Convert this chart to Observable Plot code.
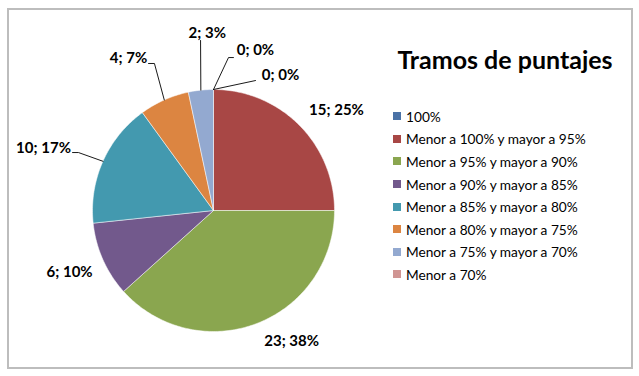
<!DOCTYPE html>
<html>
<head>
<meta charset="utf-8">
<script src="https://cdn.jsdelivr.net/npm/d3@7"></script>
<script src="https://cdn.jsdelivr.net/npm/@observablehq/plot@0.6"></script>
<style>
  html, body { margin: 0; padding: 0; background: #fff; }
  #wrap { position: relative; width: 639px; height: 376px; overflow: hidden; font-family: Lato, "Liberation Sans", sans-serif; }
  #border { position: absolute; left: 7px; top: 8px; width: 622px; height: 357px; border: 2px solid #BDBDBD; }
  #chart { position: absolute; left: 0; top: 0; }
  #title { position: absolute; left: 380px; width: 250px; top: 44px; text-align: center; font-weight: bold; font-size: 25px; color: #000; }
  #legend { position: absolute; left: 393px; top: 105px; }
  .row { height: 22.6px; display: flex; align-items: center; font-size: 13.7px; color: #000; white-space: nowrap; }
  .sw { width: 8px; height: 8px; margin-right: 5px; flex: none; }
</style>
</head>
<body>
<div id="wrap">
  <div id="border"></div>
  <div id="chart"></div>
  <div id="title">Tramos de puntajes</div>
  <div id="legend"></div>
</div>
<script>
const categories = [
  "100%",
  "Menor a 100% y mayor a 95%",
  "Menor a 95% y mayor a 90%",
  "Menor a 90% y mayor a 85%",
  "Menor a 85% y mayor a 80%",
  "Menor a 80% y mayor a 75%",
  "Menor a 75% y mayor a 70%",
  "Menor a 70%"
];
const values = [0, 15, 23, 6, 10, 4, 2, 0];
const colors = ["#4A72A6", "#A84745", "#8AA64F", "#72598C", "#4399AF", "#DC8541", "#93A9D0", "#D09593"];

// label placement (polar: degrees clockwise from 12 o'clock, radius in pie radii)
const labelAngle = [14.7, 50.9, 149.2, 246.7, 290.0, 330.8, 358.0, 26.4];
const labelRadius = [1.367, 1.310, 1.261, 1.295, 1.495, 1.439, 1.464, 1.246];
// leader line bend/end points (pie-radius units), null = no leader
const leaderPoints = [
  [[0.124, 1.264], [0.165, 1.264]],
  null,
  null,
  null,
  [[-1.116, 0.479], [-1.165, 0.479]],
  [[-0.488, 1.215], [-0.537, 1.215]],
  [[-0.107, 1.405]],
  [[0.347, 1.074]]
];

const total = d3.sum(values);
const rad = a => a * Math.PI / 180;
let cum = 0;
const slices = values.map((v, i) => {
  const a0 = cum / total * 360;
  cum += v;
  const a1 = cum / total * 360;
  return {cat: categories[i], value: v, a0, a1, mid: (a0 + a1) / 2, pct: Math.round(v / total * 100)};
});

// polygon vertices for each slice
const pts = [];
slices.forEach(s => {
  if (s.value <= 0) return;
  pts.push({cat: s.cat, x: 0, y: 0});
  const n = Math.max(2, Math.ceil(s.a1 - s.a0));
  for (let k = 0; k <= n; k++) {
    const a = rad(s.a0 + (s.a1 - s.a0) * k / n);
    pts.push({cat: s.cat, x: Math.sin(a), y: Math.cos(a)});
  }
  pts.push({cat: s.cat, x: 0, y: 0});
});

const labels = slices.map((s, i) => ({
  text: `${s.value}; ${s.pct}%`,
  x: labelRadius[i] * Math.sin(rad(labelAngle[i])),
  y: labelRadius[i] * Math.cos(rad(labelAngle[i]))
}));

const leaders = [];
slices.forEach((s, i) => {
  if (!leaderPoints[i]) return;
  const a = rad(s.mid);
  leaders.push({id: i, x: Math.sin(a), y: Math.cos(a)});
  leaderPoints[i].forEach(p => leaders.push({id: i, x: p[0], y: p[1]}));
});

const chart = Plot.plot({
  width: 639,
  height: 376,
  margin: 0,
  x: {domain: [-1, 1], range: [92, 334], axis: null},
  y: {domain: [-1, 1], range: [331, 89], axis: null},
  color: {domain: categories, range: colors, legend: false},
  marks: [
    Plot.line(pts, {x: "x", y: "y", z: "cat", fill: "cat", stroke: "white", strokeWidth: 0.5, curve: "linear"}),
    Plot.line(leaders, {x: "x", y: "y", z: "id", stroke: "#000", strokeWidth: 0.9}),
    Plot.text(labels, {x: "x", y: "y", text: "text", fontWeight: "bold", fontSize: 15, fontFamily: "Lato, 'Liberation Sans', sans-serif", fill: "#000"})
  ]
});
document.getElementById("chart").appendChild(chart);

const legend = d3.select("#legend");
categories.forEach((c, i) => {
  const row = legend.append("div").attr("class", "row");
  row.append("div").attr("class", "sw").style("background", colors[i]);
  row.append("span").text(c);
});
</script>
</body>
</html>
